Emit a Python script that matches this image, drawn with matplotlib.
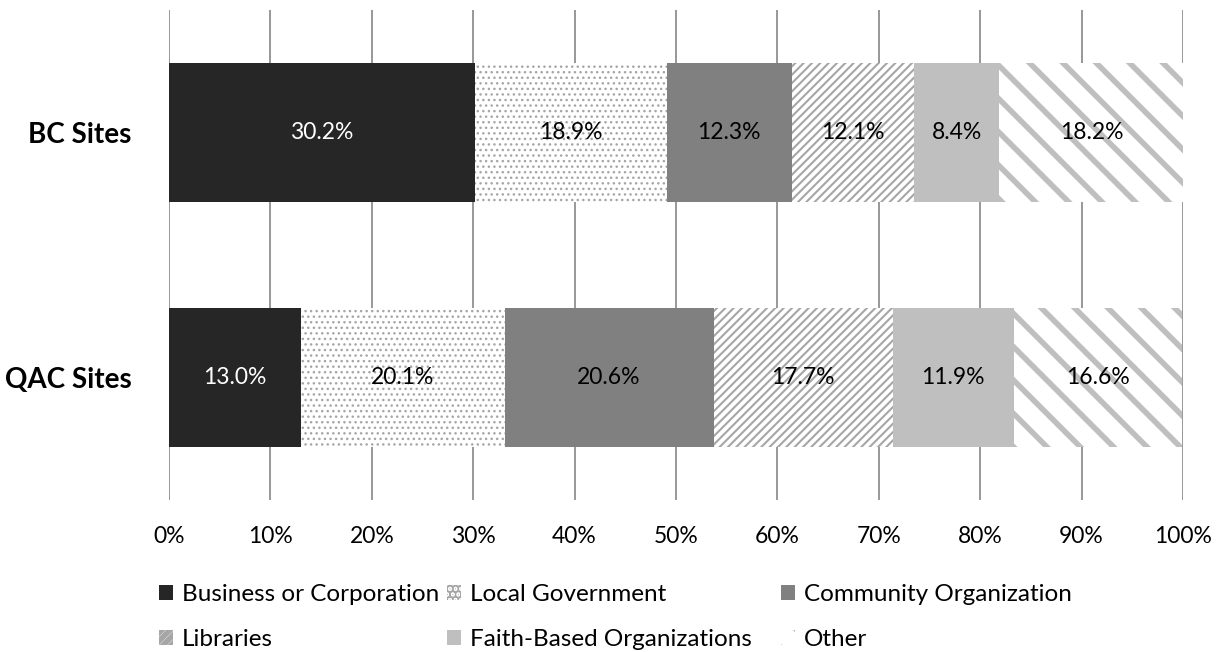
import numpy as np
import matplotlib
matplotlib.use('Agg')
import matplotlib.pyplot as plt
from matplotlib.patches import Patch

plt.rcParams['font.family'] = ['Lato', 'DejaVu Sans']

sites = ['QAC Sites', 'BC Sites']
categories = ['Business or Corporation', 'Local Government', 'Community Organization',
              'Libraries', 'Faith-Based Organizations', 'Other']
# shares per category, in order [QAC, BC]
shares = {
    'Business or Corporation':   [13.0, 30.2],
    'Local Government':          [20.1, 18.9],
    'Community Organization':    [20.6, 12.3],
    'Libraries':                 [17.7, 12.1],
    'Faith-Based Organizations': [11.9, 8.4],
    'Other':                     [16.6, 18.2],
}

# face, hatch, hatch colour, hatch width, label colour
styles = {
    'Business or Corporation':   ('#262626', '', '#262626', 1.0, 'white'),
    'Local Government':          ('white', '...', '#a6a6a6', 1.0, 'black'),
    'Community Organization':    ('#808080', '', '#808080', 1.0, 'black'),
    'Libraries':                 ('white', '////', '#a6a6a6', 1.5, 'black'),
    'Faith-Based Organizations': ('#bfbfbf', '', '#bfbfbf', 1.0, 'black'),
    'Other':                     ('white', '\\', '#bfbfbf', 4.0, 'black'),
}

fig = plt.figure(figsize=(12.2, 6.52), dpi=100)
ax = fig.add_axes([169/1220, 1 - 500/652, (1183-169)/1220, 490/652])

y = np.arange(len(sites))
left = np.zeros(len(sites))
handles = {}
for cat in categories:
    face, hatch, hcol, hlw, tcol = styles[cat]
    vals = np.array(shares[cat])
    plt.rcParams['hatch.linewidth'] = hlw
    bars = ax.barh(y, vals, left=left, height=0.57, color=face, edgecolor=hcol,
                   linewidth=0, hatch=hatch, zorder=2)
    for yi, v, l in zip(y, vals, left):
        ax.text(l + v/2, yi, '%.1f%%' % v, ha='center', va='center',
                color=tcol, fontsize=16.5, zorder=3)
    handles[cat] = Patch(facecolor=face, edgecolor=hcol, linewidth=0, hatch=hatch)
    left += vals

ax.set_xlim(0, 100)
ax.set_ylim(-0.5, 1.5)
ax.set_xticks(np.arange(0, 101, 10))
ax.set_xticklabels(['%d%%' % t for t in range(0, 101, 10)], fontsize=16.5)
ax.set_yticks(y)
ax.set_yticklabels(sites, fontsize=20, fontweight='bold')
ax.tick_params(axis='x', length=0, pad=19)
ax.tick_params(axis='y', length=0, pad=27)
for s in ax.spines.values():
    s.set_visible(False)
ax.grid(axis='x', color='#868686', linewidth=1.2, zorder=0)
ax.set_axisbelow(True)

# legend laid out in Excel's column order: two columns, then the third one
leg_kw = dict(frameon=False, fontsize=17.5, loc='upper left',
              handlelength=0.58, handleheight=0.58, handletextpad=0.37,
              columnspacing=0.3, labelspacing=0.98, borderaxespad=0, borderpad=0)
first = ['Business or Corporation', 'Libraries', 'Local Government',
         'Faith-Based Organizations']
third = ['Community Organization', 'Other']
fig.legend([handles[c] for c in first], first, ncol=2,
           bbox_to_anchor=(159/1220, 1 - 584/652), **leg_kw)
fig.legend([handles[c] for c in third], third, ncol=1,
           bbox_to_anchor=(781/1220, 1 - 584/652), **leg_kw)

fig.savefig('out.png', dpi=100)
